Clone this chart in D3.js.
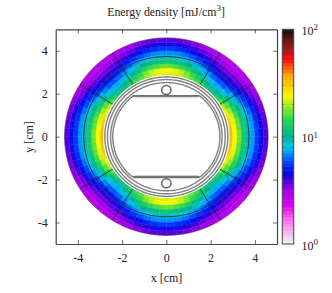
<!DOCTYPE html>
<html><head><meta charset="utf-8">
<script src="https://cdnjs.cloudflare.com/ajax/libs/d3/7.8.5/d3.min.js"></script>
<style>html,body{margin:0;padding:0;background:#fff}svg{display:block}text{font-family:"Liberation Serif",serif;fill:#222}</style>
</head><body><svg id="c" width="332" height="293"></svg>
<script>
const xTicks=[-4,-2,0,2,4], yTicks=[-4,-2,0,2,4];
const radii=[2.8,3.0,3.2,3.4,3.6,3.8,4.0,4.2,4.4,4.6];
const angles=[0,5,10,15,20,25,30,35,40,45,50,55,60,65,70,75,80,85,90];
// energy density per quadrant: rows by angle from +y axis, columns from inner to outer ring
const energy=[
[22,24,17,12,9,7,5.6,4.6,3.8],
[22,23,16,11.5,8.7,6.9,5.4,4.5,3.75],
[21,21,15,10.8,8.2,6.5,5.1,4.3,3.6],
[19,18,13.5,10,7.6,6,4.8,4,3.4],
[17,15,11.5,9,7,5.5,4.4,3.7,3.2],
[15.5,13,10,8,6.3,5,4.1,3.5,3.05],
[14,11.5,9,7,5.6,4.6,3.9,3.3,2.95],
[12.5,10,8,6.3,5.1,4.3,3.7,3.2,2.85],
[11.5,9.3,7.5,6,4.9,4.1,3.6,3.1,2.8],
[12,9.5,7.7,6.1,5,4.2,3.6,3.1,2.8],
[14,11,8.5,6.7,5.3,4.4,3.7,3.2,2.9],
[17,13.5,10,7.7,5.9,4.8,4,3.4,3],
[21,16.5,12,9,6.8,5.3,4.3,3.6,3.15],
[25,19.5,14,10.5,7.7,5.9,4.7,3.9,3.35],
[28,22,15.5,11.5,8.5,6.5,5.1,4.2,3.55],
[30,23,16.5,12,9,7,5.4,4.5,3.7],
[32,24,17,12.5,9.2,7.1,5.6,4.6,3.8],
[33,24,17.5,12.5,9.3,7.2,5.6,4.6,3.85]];
const paletteStops=[0,.03,.12,.18,.244,.275,.31,.34,.38,.43,.46,.5,.58,.69,.79,.86,.92,1];
const paletteColors=["#fff4fb","#f3d5ef","#ff66f0","#e000f0","#a800e8","#7a00e0","#2a00d8","#0010f0","#0040ff","#00a0f8","#00c8e0","#00b090","#20d850","#f8f800","#ffa000","#ff1010","#901818","#181010"];
const gridAngles=[32,58];
const gridRadius=[2.82,4.6], pipeRadius=3.73;
const rings=[2.78,2.66,2.52];
const flatY=1.9, flatX=1.5, portY=2.17, portR=0.21;

const svg=d3.select("#c");
const x=d3.scaleLinear().domain([-5,5]).range([55.7,277]);
const y=d3.scaleLinear().domain([-5,5]).range([244,29.3]);
const cbY=d3.scaleLog().domain([1,100]).range([244,29.3]);
const color=d3.scaleLinear().domain(paletteStops).range(paletteColors).interpolate(d3.interpolateRgb);
const colorOf=v=>color(Math.log10(v)/2);
const pt=(r,a,sx,sy)=>[x(sx*r*Math.sin(a*Math.PI/180)),y(sy*r*Math.cos(a*Math.PI/180))];
const line=d3.line();
const quads=[[1,1],[-1,1],[1,-1],[-1,-1]];
const cells=[];
quads.forEach(q=>energy.forEach((row,i)=>row.forEach((v,j)=>cells.push({v,i,j,q}))));
svg.append("g").selectAll("path").data(cells).join("path")
 .attr("d",d=>{const [a0,a1]=[angles[d.i],angles[d.i+1]],[r0,r1]=[radii[d.j],radii[d.j+1]],[s,t]=d.q;
   return line([pt(r0,a0,s,t),pt(r1,a0,s,t),pt(r1,a1,s,t),pt(r0,a1,s,t)])+"Z";})
 .attr("fill",d=>colorOf(d.v)).attr("stroke",d=>colorOf(d.v)).attr("stroke-width",.4);

const circle=(r,a0=0,a1=360)=>line(d3.range(a0,a1+1,2).map(a=>pt(r,a,1,1)));
svg.append("path").attr("d",circle(4.6)+"Z").attr("fill","none").attr("stroke","#444").attr("stroke-width",.6).attr("stroke-opacity",.6);
svg.append("path").attr("d",circle(pipeRadius)+"Z").attr("fill","none").attr("stroke","#222").attr("stroke-width",.8);
quads.forEach(q=>gridAngles.forEach(a=>{
 svg.append("path").attr("d",line([pt(gridRadius[0],a,q[0],q[1]),pt(gridRadius[1],a,q[0],q[1])])).attr("stroke","#222").attr("stroke-width",.7).attr("fill","none");
}));
svg.append("path").attr("d",circle(2.86)+"Z").attr("fill","#fff").attr("stroke","none");
rings.forEach(r=>svg.append("path").attr("d",circle(r)+"Z").attr("fill","none").attr("stroke","#808080").attr("stroke-width",1.4));
const rc=Math.hypot(flatX,flatY), aC=Math.atan2(flatX,flatY)*180/Math.PI;
const side=(s)=>d3.range(aC,180-aC+.1,3).map(a=>pt(rc,a,s,1));
const chamber=[...side(1),...side(-1).reverse()];
svg.append("path").attr("d",line(chamber)+"Z").attr("fill","#fff").attr("stroke","#808080").attr("stroke-width",1.4);
[1,-1].forEach(s=>{
 svg.append("path").attr("d",line([[x(-flatX),y(s*flatY)],[x(flatX),y(s*flatY)]])).attr("stroke","#707070").attr("stroke-width",1.8);
 svg.append("path").attr("d",line([[x(-flatX+.05),y(s*(flatY-.09))],[x(flatX-.05),y(s*(flatY-.09))]])).attr("stroke","#d0d0d0").attr("stroke-width",1);
 svg.append("ellipse").attr("cx",x(0)).attr("cy",y(s*portY)).attr("rx",x(portR)-x(0)).attr("ry",y(0)-y(portR))
  .attr("fill","#fff").attr("stroke","#666").attr("stroke-width",1.5);
});

const tick=4;
const ax=(gen,tx,ty)=>{const g=svg.append("g").attr("transform",`translate(${tx},${ty})`).call(gen);
 g.selectAll("path.domain").attr("stroke","#444").attr("stroke-width",1.2);
 g.selectAll(".tick line").attr("stroke","#444").attr("stroke-width",.8);
 g.selectAll("text").attr("font-size",12).attr("font-family",'"Liberation Serif",serif').attr("fill","#222");
 return g;};
ax(d3.axisBottom(x).tickValues(xTicks).tickSizeInner(-tick).tickSizeOuter(0).tickPadding(9).tickFormat(v=>String(v)),0,244);
ax(d3.axisTop(x).tickValues(xTicks).tickSizeInner(-tick).tickSizeOuter(0).tickFormat(""),0,29.3);
ax(d3.axisLeft(y).tickValues(yTicks).tickSizeInner(-tick).tickSizeOuter(0).tickPadding(8).tickFormat(v=>String(v)),55.7,0);
ax(d3.axisRight(y).tickValues(yTicks).tickSizeInner(-tick).tickSizeOuter(0).tickFormat(""),277,0);

svg.append("text").attr("x",166.5).attr("y",281.5).attr("text-anchor","middle").attr("font-size",12).text("x [cm]");
svg.append("text").attr("transform","translate(33,137) rotate(-90)").attr("text-anchor","middle").attr("font-size",12).text("y [cm]");
const title=svg.append("text").attr("x",166).attr("y",15.5).attr("text-anchor","middle").attr("font-size",11.8);
title.append("tspan").text("Energy density [mJ/cm");
title.append("tspan").attr("font-size",9).attr("dy",-4.5).text("3");
title.append("tspan").attr("dy",4.5).text("]");

const cbX0=282.3, cbX1=293.7, steps=d3.range(0,64);
svg.append("g").selectAll("rect").data(steps).join("rect")
 .attr("x",cbX0).attr("width",cbX1-cbX0)
 .attr("y",d=>cbY(Math.pow(10,2*(d+1)/64))).attr("height",d=>cbY(Math.pow(10,2*d/64))-cbY(Math.pow(10,2*(d+1)/64))+.5)
 .attr("fill",d=>color((d+.5)/64));
const cbMinor=[2,3,4,5,6,7,8,9,10,20,30,40,50,60,70,80,90];
svg.append("g").selectAll("path").data(cbMinor).join("path")
 .attr("d",d=>`M${cbX0},${cbY(d)}h2M${cbX1},${cbY(d)}h-2`).attr("stroke","#333").attr("stroke-width",.6).attr("stroke-opacity",.7);
svg.append("rect").attr("x",cbX0).attr("y",29.3).attr("width",cbX1-cbX0).attr("height",214.7).attr("fill","none").attr("stroke","#444").attr("stroke-width",1);
[[100,"2"],[10,"1"],[1,"0"]].forEach(([v,e])=>{
 const t=svg.append("text").attr("x",301.5).attr("y",cbY(v)+5.5).attr("font-size",12);
 t.append("tspan").text("10");
 t.append("tspan").attr("font-size",9).attr("dy",-4.5).text(e);
});
</script></body></html>
